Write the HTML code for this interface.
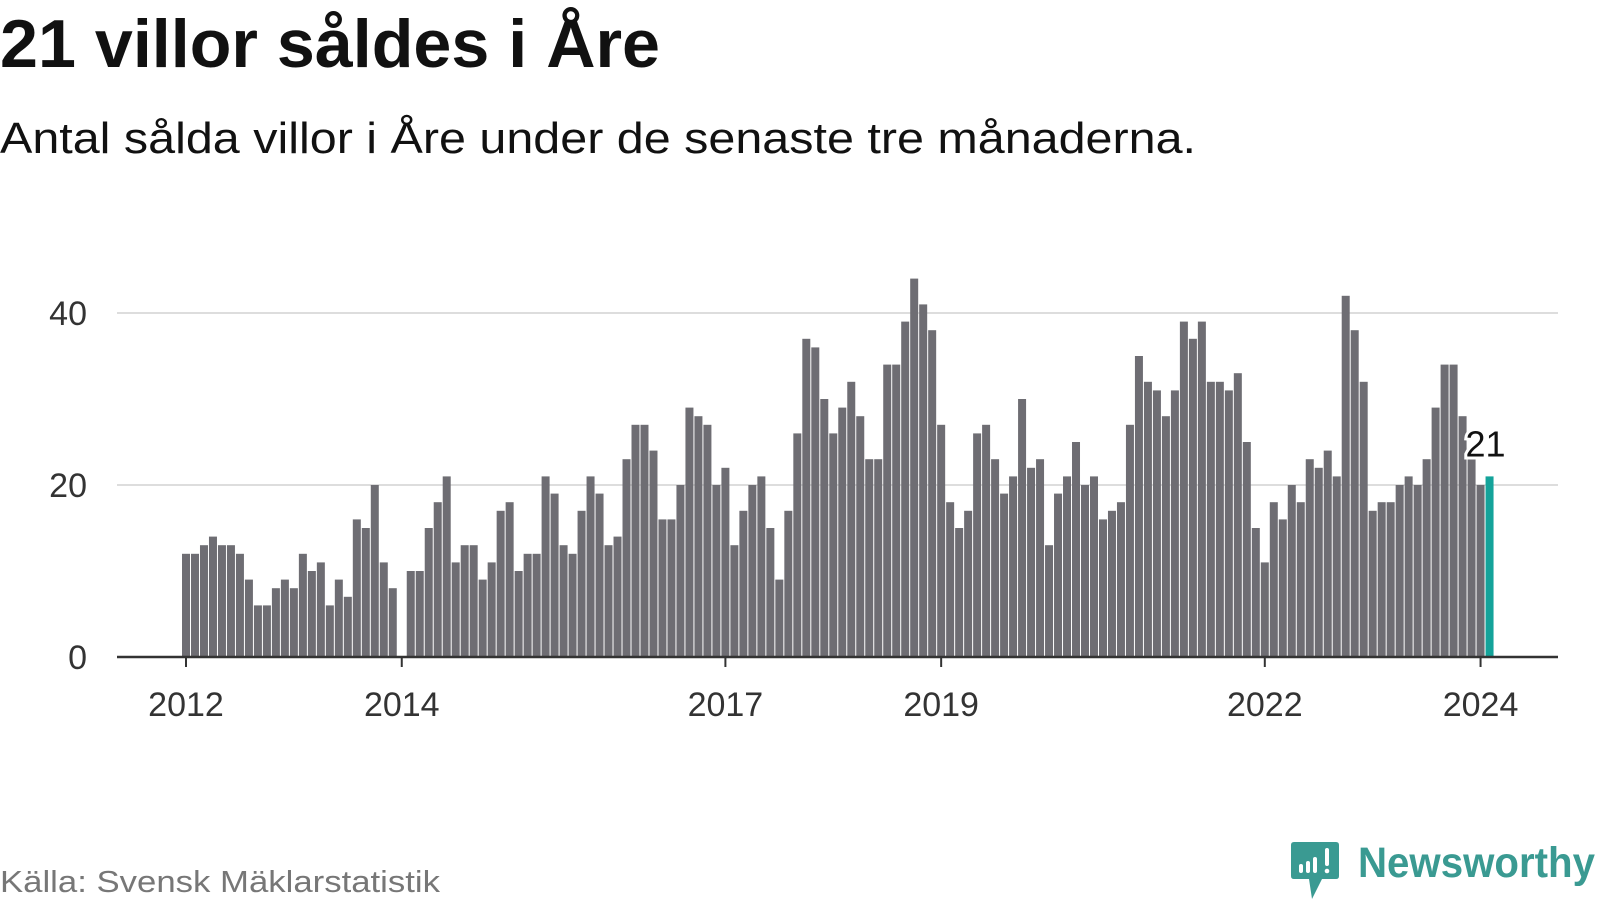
<!DOCTYPE html>
<html><head><meta charset="utf-8"><style>
html,body{margin:0;padding:0;background:#fff;}
svg{display:block;font-family:"Liberation Sans",sans-serif;}
</style></head><body>
<svg id="chart" width="1600" height="900" viewBox="0 0 1600 900" xmlns="http://www.w3.org/2000/svg">
<text x="0" y="67" font-size="68" font-weight="bold" fill="#111" textLength="660" lengthAdjust="spacingAndGlyphs">21 villor såldes i Åre</text>
<text x="0" y="153" font-size="44" fill="#111" textLength="1196" lengthAdjust="spacingAndGlyphs">Antal sålda villor i Åre under de senaste tre månaderna.</text>
<g id="grid"></g>
<g id="bars"></g>
<g id="axes"></g>
<text x="0" y="892" font-size="31" fill="#777" textLength="440" lengthAdjust="spacingAndGlyphs">Källa: Svensk Mäklarstatistik</text>
<g>
<path d="M1294 842 H1336 Q1339 842 1339 845 V876 Q1339 879 1336 879 H1322 L1312 899 L1309 879 H1294 Q1291 879 1291 876 V845 Q1291 842 1294 842 Z" fill="#3a9a92"/>
<rect x="1299" y="864" width="4" height="9" rx="2" fill="#fff"/>
<rect x="1306" y="861" width="4" height="12" rx="2" fill="#fff"/>
<rect x="1313" y="857" width="4" height="16" rx="2" fill="#fff"/>
<rect x="1325" y="848" width="4" height="18" rx="2" fill="#fff"/>
<circle cx="1327" cy="871" r="2.3" fill="#fff"/>
<text x="1358" y="877" font-size="43" font-weight="bold" fill="#3a9a92" textLength="237" lengthAdjust="spacingAndGlyphs">Newsworthy</text>
</g>
</svg>
<script>
const years = [2012,2013,2014,2015,2016,2017,2018,2019,2020,2021,2022,2023,2024];
const values = [
12,12,13,14,13,13,12,9,6,6,8,9,
8,12,10,11,6,9,7,16,15,20,11,8,
0,10,10,15,18,21,11,13,13,9,11,17,
18,10,12,12,21,19,13,12,17,21,19,13,
14,23,27,27,24,16,16,20,29,28,27,20,
22,13,17,20,21,15,9,17,26,37,36,30,
26,29,32,28,23,23,34,34,39,44,41,38,
27,18,15,17,26,27,23,19,21,30,22,23,
13,19,21,25,20,21,16,17,18,27,35,32,
31,28,31,39,37,39,32,32,31,33,25,15,
11,18,16,20,18,23,22,24,21,42,38,32,
17,18,18,20,21,20,23,29,34,34,28,23,
20,21];
const yTicks = [0,20,40];
const xTickYears = [2012,2014,2017,2019,2022,2024];
const highlightLabel = "21";

const NS="http://www.w3.org/2000/svg";
const x0=182, step=8.99, bw=8, y0=657, k=8.6;
const xs = i => x0 + i*step;
const ys = v => y0 - v*k;
function mk(tag, attrs, parent){const e=document.createElementNS(NS,tag);for(const a in attrs)e.setAttribute(a,attrs[a]);parent.appendChild(e);return e;}
const grid=document.getElementById('grid'), bars=document.getElementById('bars'), axes=document.getElementById('axes');
yTicks.forEach(t=>{
  if(t>0){const l=mk('line',{x1:117,x2:1558,y1:ys(t),y2:ys(t),stroke:'#ddd','stroke-width':2},grid);
  
  }
  const tx=mk('text',{x:87,y:ys(t)+12,'font-size':34,fill:'#333','text-anchor':'end'},axes);
  tx.textContent=t;
  
  
});
const last=values.length-1;
values.forEach((v,i)=>{
  if(v<=0)return;
  const r=mk('rect',{x:xs(i),y:ys(v),width:bw,height:v*k,fill:i===last?'#14a39a':'#6e6d73'},bars);
  
  
});
const base=mk('line',{x1:117,x2:1558,y1:y0,y2:y0,stroke:'#333','stroke-width':2.5},axes);


xTickYears.forEach(yr=>{
  const i=(yr-years[0])*12;
  const cx=xs(i)+bw/2;
  const t=mk('line',{x1:cx,x2:cx,y1:y0,y2:y0+10,stroke:'#333','stroke-width':2},axes);
  
  
  const tx=mk('text',{x:cx,y:716,'font-size':34,fill:'#333','text-anchor':'middle'},axes);
  tx.textContent=yr;
  
  
});
const lbl=mk('text',{x:xs(last)+bw/2-4,y:ys(values[last])-20,'font-size':36,fill:'#111','text-anchor':'middle',stroke:'#fff','stroke-width':6,'paint-order':'stroke'},axes);
lbl.textContent=highlightLabel;


</script>
</body></html>
